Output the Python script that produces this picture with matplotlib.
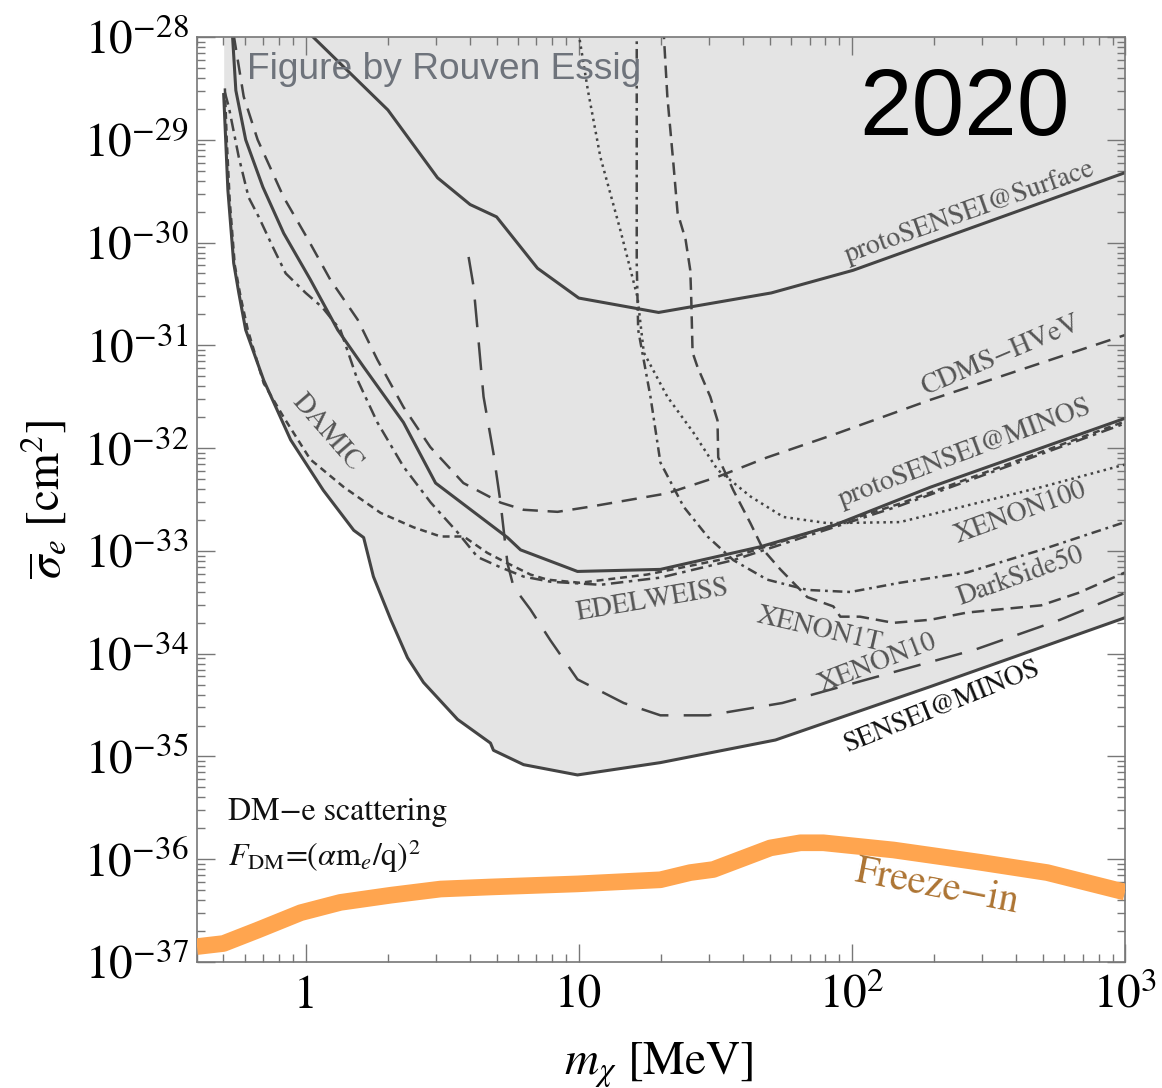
import numpy as np
import matplotlib
matplotlib.use('Agg')
import matplotlib.pyplot as plt
from matplotlib.ticker import LogLocator, NullFormatter

plt.rcParams['mathtext.fontset'] = 'stix'
plt.rcParams['font.family'] = 'STIXGeneral'
plt.rcParams['lines.scale_dashes'] = False

# dark matter mass [MeV] and log10(sigma_e / cm^2)
surf_m = [1.0, 2.0, 3.04, 4.0, 5.0, 7.06, 10, 19.6, 50.7, 101, 1000]
surf_s = [-27.93, -28.71, -29.37, -29.63, -29.75, -30.25, -30.54, -30.68, -30.49, -30.27, -29.32]

pmin_m = [0.54, 0.555, 0.603, 0.697, 0.831, 1.04, 1.31, 1.63, 2.28, 2.99, 5.48, 6.12, 9.89, 19.9, 46.2, 86.2, 194, 1000]
pmin_s = [-28.0, -28.52, -29.0, -29.46, -29.91, -30.36, -30.85, -31.21, -31.75, -32.34, -32.87, -32.99,
          -33.20, -33.18, -32.96, -32.75, -32.38, -31.71]

smin_m = [0.501, 0.519, 0.545, 0.569, 0.603, 0.702, 0.881, 1.16, 1.50, 1.63, 1.77, 2.05, 2.36, 2.70,
          3.60, 4.75, 4.87, 6.28, 9.89, 19.9, 52.5, 194, 1000]
smin_s = [-28.56, -29.49, -30.20, -30.49, -30.85, -31.34, -31.92, -32.41, -32.80, -32.87, -33.25, -33.67,
          -34.04, -34.28, -34.64, -34.87, -34.94, -35.08, -35.18, -35.06, -34.84, -34.32, -33.65]

cdms_m = [0.545, 0.593, 0.667, 0.831, 1.02, 1.23, 1.55, 1.83, 2.28, 2.86, 3.78, 5.17, 6.28, 8.36, 11.0,
          21.1, 32.2, 49.0, 85.5, 194, 1000]
cdms_s = [-27.98, -28.58, -29.0, -29.56, -29.97, -30.36, -30.75, -31.14, -31.60, -31.99, -32.34, -32.53,
          -32.60, -32.62, -32.57, -32.44, -32.28, -32.09, -31.87, -31.53, -30.90]

damic_m = [0.506, 0.514, 0.527, 0.55, 0.578, 0.614, 0.702, 0.831, 1.04, 1.38, 1.88, 2.48, 3.12, 3.79,
           4.63, 5.48, 6.65, 7.68, 10.1, 17.8, 36.8, 150, 1000]
damic_s = [-28.50, -29.0, -29.59, -30.22, -30.53, -30.85, -31.37, -31.70, -32.11, -32.38, -32.63, -32.77,
           -32.86, -32.86, -33.02, -33.12, -33.23, -33.28, -33.31, -33.23, -33.06, -32.54, -31.74]

edel_m = [0.506, 0.523, 0.569, 0.618, 0.673, 0.757, 0.845, 1.0, 1.15, 1.34, 1.55, 1.83, 2.28, 2.87,
          3.60, 4.26, 5.17, 6.28, 7.88, 12.0, 19.9, 36.8, 150, 1000]
edel_s = [-28.54, -28.68, -29.17, -29.56, -29.75, -30.04, -30.30, -30.49, -30.63, -30.85, -31.34, -31.75,
          -32.18, -32.53, -32.82, -33.06, -33.16, -33.25, -33.30, -33.33, -33.26, -33.09, -32.56, -31.76]

x10_m = [3.95, 4.12, 4.26, 4.48, 4.87, 5.17, 5.48, 5.77, 6.65, 7.87, 9.89, 14.6, 19.9, 29.8, 55.6,
         114, 283, 579, 1000]
x10_s = [-30.14, -30.43, -30.85, -31.50, -32.05, -32.53, -33.12, -33.35, -33.57, -33.87, -34.25, -34.48,
         -34.60, -34.60, -34.48, -34.25, -33.96, -33.67, -33.41]

x1t_m = [20.4, 21.1, 22.2, 23.0, 24.6, 25.6, 25.8, 26.1, 27.2, 30.3, 32.2, 32.4, 36.8, 42.5, 47.4, 54.7,
         68.7, 85.5, 90.7, 107, 142, 194, 264, 493, 673, 1000]
x1t_s = [-27.9, -28.58, -29.23, -29.71, -29.97, -30.27, -30.53, -31.07, -31.21, -31.50, -31.73, -32.09,
         -32.41, -32.73, -32.99, -33.18, -33.45, -33.54, -33.64, -33.64, -33.70, -33.67, -33.60, -33.53,
         -33.41, -33.21]

ds50_m = [16.3, 16.3, 16.5, 18.3, 19.9, 24.2, 29.6, 36.8, 49.0, 68.7, 98.7, 150, 264, 493, 1000]
ds50_s = [-27.9, -30.20, -30.85, -31.50, -32.14, -32.57, -32.86, -33.09, -33.28, -33.38, -33.40, -33.31,
          -33.21, -32.99, -32.72]

x100_m = [9.9, 10.8, 12.0, 14.2, 16.4, 17.3, 21.1, 26.3, 32.2, 42.5, 56.1, 81.3, 150, 493, 1000]
x100_s = [-27.9, -28.52, -29.17, -29.88, -30.53, -31.07, -31.50, -31.85, -32.21, -32.47, -32.67, -32.73,
          -32.72, -32.38, -32.16]

fi_m = [0.4, 0.5, 0.667, 0.96, 1.34, 2.05, 3.12, 4.75, 9.9, 19.9, 25.6, 31.1, 50.3, 64.8, 78.6, 142,
        295, 519, 1000]
fi_s = [-36.85, -36.82, -36.69, -36.52, -36.42, -36.35, -36.29, -36.27, -36.24, -36.20, -36.13, -36.10,
        -35.89, -35.84, -35.84, -35.91, -36.03, -36.13, -36.32]

line_c = '#444444'
label_c = '#555555'

fig = plt.figure(figsize=(11.62, 10.88), dpi=100)
ax = fig.add_axes([197 / 1162, 1 - 962 / 1088, 928 / 1162, 925 / 1088])

sig = lambda s: 10.0 ** np.array(s)

ax.fill_between(smin_m, sig(smin_s), 1e-27, color='#e4e4e4', lw=0, zorder=0)

solid = dict(color=line_c, lw=2.2, solid_joinstyle='round')
ax.plot(surf_m, sig(surf_s), **solid)
ax.plot(pmin_m, sig(pmin_s), **solid)
ax.plot(smin_m, sig(smin_s), **solid)

thin = dict(color=line_c, lw=1.8)
ax.plot(cdms_m, sig(cdms_s), ls=(0, (11, 7)), **thin)
ax.plot(damic_m, sig(damic_s), ls=(0, (5, 3.5)), **thin)
ax.plot(edel_m, sig(edel_s), ls=(0, (9, 4, 2.5, 4)), **thin)
ax.plot(x10_m, sig(x10_s), ls=(0, (20, 11)), **thin)
ax.plot(x1t_m, sig(x1t_s), ls=(0, (9, 5)), **thin)
ax.plot(ds50_m, sig(ds50_s), ls=(0, (7, 3.5, 2, 3.5)), **thin)
ax.plot(x100_m, sig(x100_s), ls=(0, (1.8, 3)), **thin)

ax.plot(fi_m, sig(fi_s), color='#ffa54f', lw=12, solid_capstyle='butt', zorder=3)

ax.set_xscale('log')
ax.set_yscale('log')
ax.set_xlim(0.4, 1000)
ax.set_ylim(1e-37, 1e-28)

ax.set_xticks([1, 10, 100, 1000], ['1', '10', r'$10^2$', r'$10^3$'])
ax.set_yticks([10.0 ** k for k in range(-37, -27)],
              [r'$10^{%d}$' % k for k in range(-37, -27)])
ax.xaxis.set_minor_locator(LogLocator(base=10, subs=np.arange(2, 10), numticks=20))
ax.yaxis.set_minor_locator(LogLocator(base=10, subs=np.arange(2, 10), numticks=20))
ax.xaxis.set_minor_formatter(NullFormatter())
ax.yaxis.set_minor_formatter(NullFormatter())
ax.tick_params(which='both', direction='in', top=True, right=True, color='#777777', width=1.0)
ax.tick_params(which='major', length=13, labelsize=34)
ax.tick_params(which='minor', length=6)
ax.tick_params(axis='x', which='major', pad=33)
ax.tick_params(axis='y', which='major', pad=6)
plt.setp(ax.get_xticklabels(), va='baseline')
for sp in ax.spines.values():
    sp.set_color('#777777')
    sp.set_linewidth(1.2)

fig.text(659 / 1162, 1 - 1075 / 1088, r'$m_\chi$ [MeV]', fontsize=34, ha='center', va='baseline')
fig.text(45 / 1162, 1 - 500 / 1088, r'$\overline{\sigma}_e\ [\mathrm{cm}^2]$', fontsize=34,
         rotation=90, ha='center', va='center')

# curve labels
lab = dict(fontsize=20, color=label_c, rotation_mode='anchor', ha='left', va='baseline')
ax.text(97, 10 ** -30.19, 'protoSENSEI@Surface', rotation=19.5, **lab)
ax.text(185, 10 ** -31.48, 'CDMS\u2212HVeV', rotation=23, **lab)
ax.text(91.5, 10 ** -32.57, 'protoSENSEI@MINOS', rotation=20.5, **lab)
ax.text(245, 10 ** -32.92, 'XENON100', rotation=20, **lab)
ax.text(249, 10 ** -33.53, 'DarkSide50', rotation=19.6, **lab)
ax.text(44.3, 10 ** -33.69, 'XENON1T', rotation=-13, **lab)
ax.text(77.3, 10 ** -34.37, 'XENON10', rotation=21, **lab)
ax.text(9.89, 10 ** -33.67, 'EDELWEISS', rotation=9.6, **lab)
ax.text(96.2, 10 ** -34.96, 'SENSEI@MINOS', rotation=22, fontsize=20, color='#111111',
        rotation_mode='anchor', ha='left', va='baseline')
ax.text(1.20, 10 ** -31.85, 'DAMIC', rotation=-49, fontsize=20, color=label_c,
        rotation_mode='anchor', ha='center', va='center')
ax.text(205, 10 ** -36.27, 'Freeze\u2212in', rotation=-11, fontsize=29, color='#ad7433',
        rotation_mode='anchor', ha='center', va='center')

ax.text(0.518, 10 ** -35.62, 'DM\u2212e scattering', fontsize=23, color='#111111', va='baseline')
ax.text(0.518, 10 ** -36.07, r'$F_{\rm DM}$=($\alpha$m$_e$/q)$^2$', fontsize=23, color='#111111',
        va='baseline')

ax.text(0.054, 0.9546, 'Figure by Rouven Essig', transform=ax.transAxes, fontsize=26.7,
        family='Liberation Sans', color='#6e737b', va='baseline', zorder=5)
ax.text(0.714, 0.894, '2020', transform=ax.transAxes, fontsize=68,
        family='Liberation Sans', color='black', va='baseline', zorder=5)

fig.savefig('out.png', dpi=100)
